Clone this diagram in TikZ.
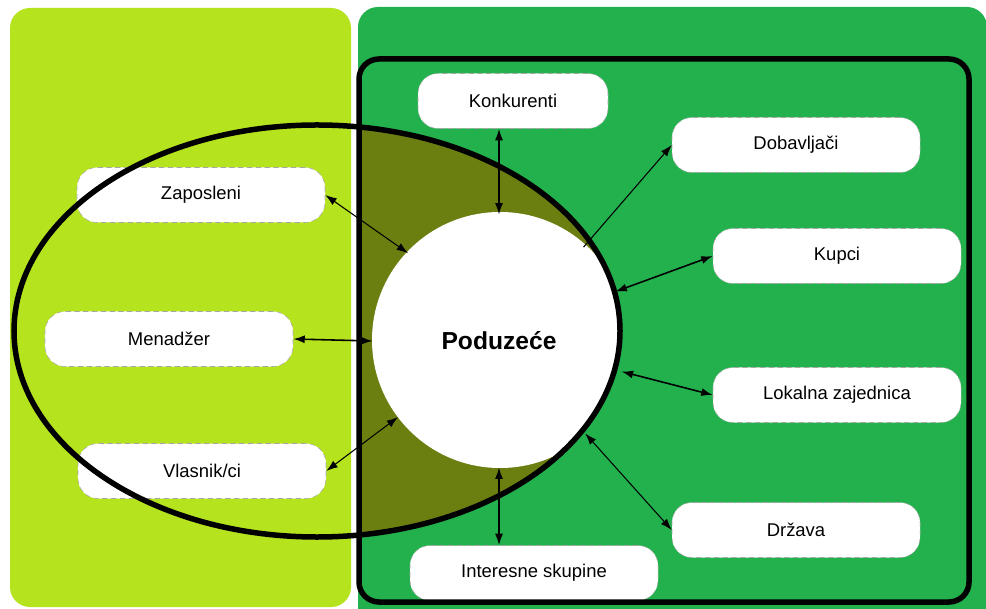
\documentclass[tikz,border=0pt]{standalone}
\usepackage{fontspec}
\setmainfont{Liberation Sans}
\usetikzlibrary{arrows.meta}

\definecolor{panelLime}{RGB}{181,227,30}
\definecolor{panelGreen}{RGB}{34,177,76}
\definecolor{overlapOlive}{RGB}{107,127,17}

\begin{document}
\begin{tikzpicture}
  [x=0.2mm,y=-0.2mm,
   stake/.style={rectangle,rounded corners=4mm,fill=white,draw=gray!70,densely dashed,
     line width=0.3pt,minimum width=49.6mm,minimum height=11mm,
     font=\fontsize{10.5}{12}\selectfont},
   link/.style={{Latex[length=2.3mm,width=1.6mm]}-{Latex[length=2.3mm,width=1.6mm]},line width=0.6pt},
   heavy/.style={line width=0.9pt}]
  \clip (0,0) rectangle (986,609);
  \fill[white] (0,0) rectangle (986,609);
  % the two background panels
  \fill[panelLime,rounded corners=4mm] (10,8) rectangle (351,607);
  \fill[panelGreen,rounded corners=4mm] (358,7) rectangle (987,640);
  % overlap of the ellipse with the framed area
  \begin{scope}
    \clip (359,59) rectangle (986,609);
    \fill[overlapOlive] (317,331) ellipse [x radius=60.6mm,y radius=41.2mm];
  \end{scope}
  \begin{scope}
    \clip (317,331) ellipse [x radius=60.6mm,y radius=41.2mm];
    \fill[white] (500,340) circle [radius=25.6mm];
  \end{scope}

  \node[stake,minimum width=38mm] (konk) at (513,101) {Konkurenti};
  \node[stake] (dob) at (796,145) {Dobavljači};
  \node[stake] (kup) at (837,256) {Kupci};
  \node[stake] (lok) at (837,395) {Lokalna zajednica};
  \node[stake] (drz) at (796,530) {Država};
  \node[stake] (int) at (534,573) {Interesne skupine};
  \node[stake] (zap) at (201,195) {Zaposleni};
  \node[stake] (men) at (169,339) {Menadžer};
  \node[stake] (vl) at (202,471) {Vlasnik/ci};

  \draw[line width=1.1mm] (317,331) ellipse [x radius=60.6mm,y radius=41.2mm];
  \draw[line width=1.1mm,rounded corners=4mm] (359,59) rectangle (969,602);

  \node[circle,minimum size=50.4mm,inner sep=0pt,
    font=\bfseries\fontsize{14}{16}\selectfont] (firm) at (499,341) {Poduzeće};

  \draw[link,heavy] (firm.north) -- (firm.north |- konk.south);
  \draw[link,heavy] (firm.south) -- (firm.south |- int.north);
  \draw[link,heavy] (men.east) -- (firm.west);
  \foreach \from/\to in {zap.east/firm.136,vl.east/firm.217,drz.west/firm.-47}
    \draw[link] (\from) -- (\to);
  \foreach \from/\to in {kup.west/firm.23,lok.west/firm.-14}
    \draw[link,heavy] (\from) -- (\to);
  \draw[-{Latex[length=2.3mm,width=1.6mm]},line width=0.6pt] (firm.48) -- (dob.west);
\end{tikzpicture}
\end{document}
